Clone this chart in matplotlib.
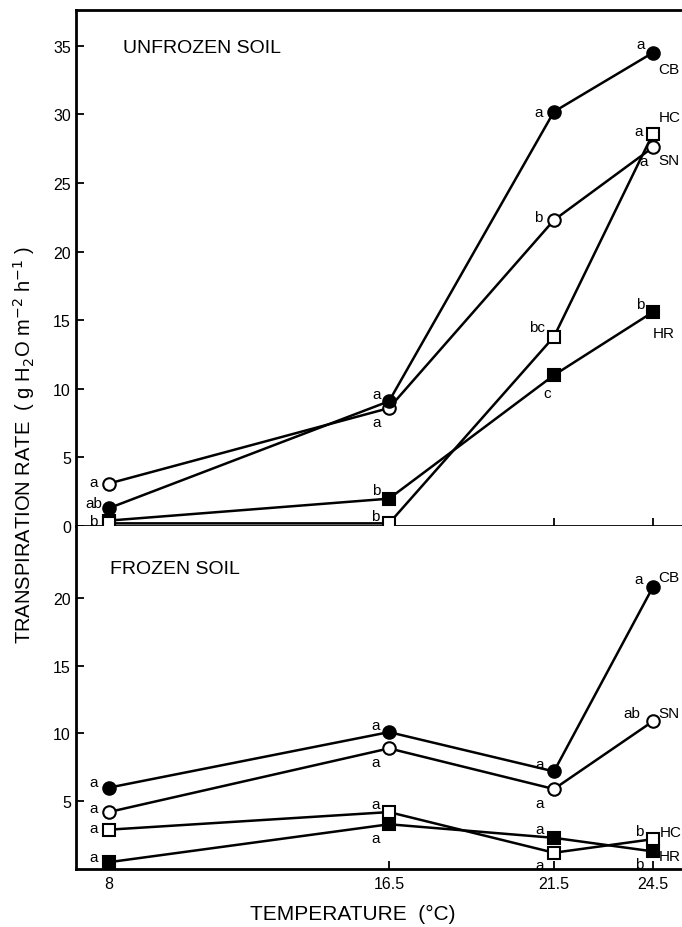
import matplotlib.pyplot as plt

plt.rcParams['font.family'] = ['Liberation Sans', 'DejaVu Sans']

TEMPS = [8, 16.5, 21.5, 24.5]
SERIES = ['CB', 'SN', 'HC', 'HR']

# unfrozen soil
UNF_CB = [1.3, 9.1, 30.2, 34.5]
UNF_SN = [3.1, 8.6, 22.3, 27.6]
UNF_HC = [0.2, 0.2, 13.8, 28.6]
UNF_HR = [0.4, 2.0, 11.0, 15.6]
UNF_LET = {'CB': ['ab', 'a', 'a', 'a'],
           'SN': ['a', 'a', 'b', 'a'],
           'HC': ['', 'b', 'bc', 'a'],
           'HR': ['b', 'b', 'c', 'b']}

# frozen soil
FRZ_CB = [6.0, 10.1, 7.2, 20.8]
FRZ_SN = [4.2, 8.9, 5.9, 10.9]
FRZ_HC = [2.9, 4.2, 1.2, 2.2]
FRZ_HR = [0.5, 3.3, 2.3, 1.3]
FRZ_LET = {'CB': ['a', 'a', 'a', 'a'],
           'SN': ['a', 'a', 'a', 'ab'],
           'HC': ['a', 'a', 'a', 'b'],
           'HR': ['a', 'a', 'a', 'b']}

STYLE = {'CB': dict(marker='o', mfc='black'),
         'SN': dict(marker='o', mfc='white'),
         'HC': dict(marker='s', mfc='white'),
         'HR': dict(marker='s', mfc='black')}

# letter offsets in points (dx, dy) per series per point
UNF_OFF = {'CB': [(-11, 4), (-9, 5), (-11, 0), (-9, 6)],
           'SN': [(-11, 1), (-9, -10), (-11, 2), (-7, -10)],
           'HC': [(0, 0), (-10, 5), (-12, 7), (-10, 2)],
           'HR': [(-11, 0), (-9, 6), (-5, -13), (-9, 6)]}
FRZ_OFF = {'CB': [(-11, 4), (-10, 5), (-10, 5), (-10, 6)],
           'SN': [(-11, 3), (-10, -10), (-10, -10), (-15, 6)],
           'HC': [(-11, 1), (-10, 6), (-10, -9), (-10, 6)],
           'HR': [(-11, 4), (-10, -10), (-10, 6), (-10, -9)]}
UNF_NAME = {'CB': (4, -12), 'SN': (4, -9), 'HC': (4, 12), 'HR': (0, -15)}
FRZ_NAME = {'CB': (4, 7), 'SN': (4, 6), 'HC': (5, 5), 'HR': (4, -3)}

unf = {'CB': UNF_CB, 'SN': UNF_SN, 'HC': UNF_HC, 'HR': UNF_HR}
frz = {'CB': FRZ_CB, 'SN': FRZ_SN, 'HC': FRZ_HC, 'HR': FRZ_HR}

fig = plt.figure(figsize=(6.82, 9.28), dpi=100)
ax1 = fig.add_axes([0.111, 0.432, 0.945, 0.556])
ax2 = fig.add_axes([0.111, 0.0625, 0.945, 0.3695])


def draw(ax, data, lets, offs, names):
    for s in ['HR', 'HC', 'SN', 'CB']:
        ax.plot(TEMPS, data[s], color='black', lw=1.8, ms=9, mec='black',
                mew=1.5, clip_on=False, zorder=3, **STYLE[s])
        for i, t in enumerate(TEMPS):
            if lets[s][i]:
                ax.annotate(lets[s][i], (t, data[s][i]), xytext=offs[s][i],
                            textcoords='offset points', ha='center',
                            va='center', fontsize=11)
        ax.annotate(s, (TEMPS[-1], data[s][-1]), xytext=names[s],
                    textcoords='offset points', ha='left', va='center',
                    fontsize=11)
    ax.set_xlim(7.0, 26.54)
    ax.set_xticks(TEMPS)
    ax.spines['right'].set_visible(False)
    for sp in ax.spines.values():
        sp.set_linewidth(2)
    ax.tick_params(direction='in', length=6, width=1.3, labelsize=11.5)


draw(ax1, unf, UNF_LET, UNF_OFF, UNF_NAME)
draw(ax2, frz, FRZ_LET, FRZ_OFF, FRZ_NAME)

ax1.set_ylim(0, 37.6)
ax1.set_yticks([0, 5, 10, 15, 20, 25, 30, 35])
ax1.tick_params(axis='x', labelbottom=False)
ax1.text(8.42, 34.9, 'UNFROZEN SOIL', fontsize=14, va='center')

ax2.set_ylim(0, 25.3)
ax2.set_yticks([5, 10, 15, 20])
ax2.spines['top'].set_visible(False)
ax2.set_xticklabels(['8', '16.5', '21.5', '24.5'])
ax2.tick_params(axis='x', pad=5)
ax2.text(8.05, 22.2, 'FROZEN SOIL', fontsize=14, va='center')
ax2.set_xlabel('TEMPERATURE  (°C)', fontsize=15, labelpad=9, x=0.43)

fig.text(0.035, 0.52, r'TRANSPIRATION RATE  ( g H$_2$O m$^{-2}$ h$^{-1}$ )',
         rotation=90, fontsize=14.5, ha='center', va='center')

fig.savefig('out.png', dpi=100)
